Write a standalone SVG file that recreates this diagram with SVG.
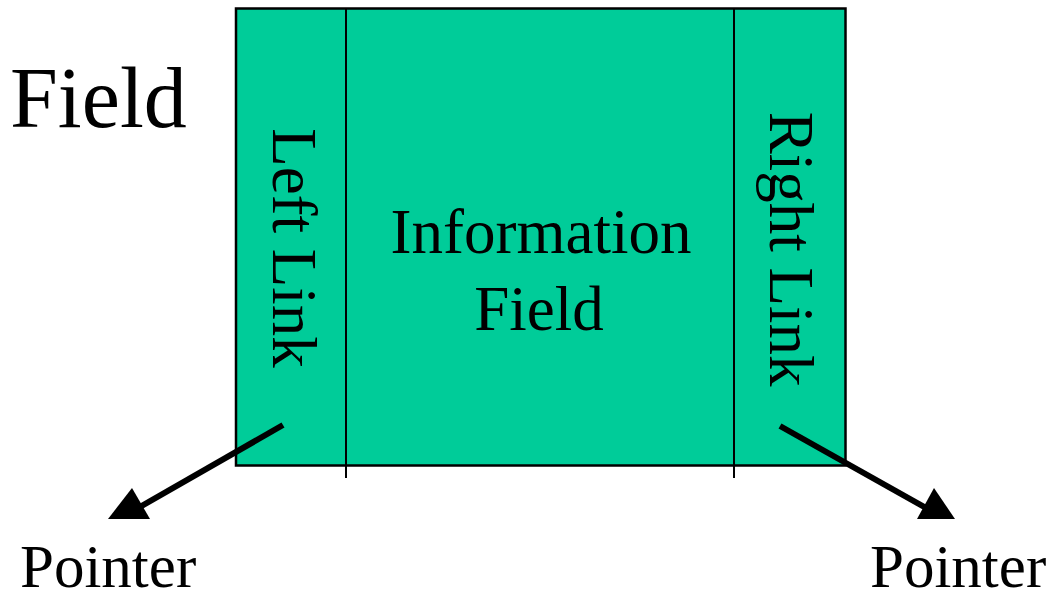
<svg xmlns="http://www.w3.org/2000/svg" width="1056" height="592" viewBox="0 0 1056 592">
  <style>
    .t { font-family: "Liberation Serif", "Times New Roman", serif; fill: #000; }
    .lbl { font-size: 63px; }
    .ptr { font-size: 61px; }
    .big { font-size: 86px; }
    .edge { stroke: #000; stroke-width: 6; fill: none; }
    .div { stroke: #000; stroke-width: 2; }
    .head { fill: #000; }
  </style>

  <!-- title -->
  <text class="t big" x="10" y="127">Field</text>

  <!-- record node: left link | information field | right link -->
  <g id="record">
    <rect x="236" y="8.5" width="609.5" height="457" fill="#00CC99" stroke="#000" stroke-width="2.5"/>
    <line class="div" x1="346" y1="8" x2="346" y2="478"/>
    <line class="div" x1="734" y1="8" x2="734" y2="478"/>
  </g>

  <g id="left-link">
    <text class="t lbl" text-anchor="middle" transform="translate(273,248) rotate(90)">Left Link</text>
  </g>

  <g id="info-field">
    <text class="t lbl" text-anchor="middle" x="541" y="253">Information</text>
    <text class="t lbl" text-anchor="middle" x="539" y="330">Field</text>
  </g>

  <g id="right-link">
    <text class="t lbl" text-anchor="middle" transform="translate(770,249) rotate(90)">Right Link</text>
  </g>

  <g id="left-pointer">
    <text class="t ptr" x="20" y="587">Pointer</text>
  </g>

  <g id="right-pointer">
    <text class="t ptr" x="870" y="587">Pointer</text>
  </g>

  <!-- pointer connectors -->
  <g id="connectors">
    <line class="edge" x1="283" y1="425" x2="138" y2="508"/>
    <polygon class="head" points="132,488 108,519 150,519"/>
    <line class="edge" x1="780" y1="426" x2="928" y2="509"/>
    <polygon class="head" points="934,488 917,519 955,519"/>
  </g>
</svg>
